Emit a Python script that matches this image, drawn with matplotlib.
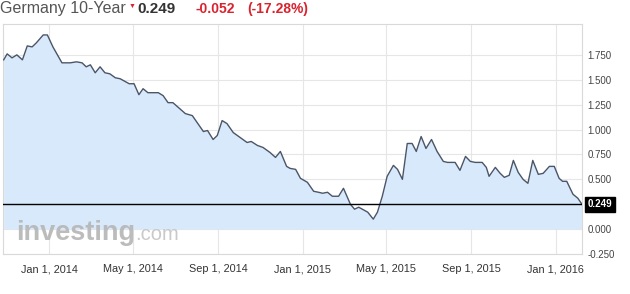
import pandas as pd
import matplotlib
matplotlib.use("Agg")
import matplotlib.pyplot as plt
import matplotlib.dates as mdates

plt.rcParams["font.family"] = ["Liberation Sans", "DejaVu Sans"]

# weekly-ish yield readings (%)
dates = [
    "2013-10-27", "2013-11-01", "2013-11-08", "2013-11-15", "2013-11-23", "2013-11-30",
    "2013-12-07", "2013-12-13", "2013-12-23", "2013-12-29", "2014-01-06", "2014-01-19",
    "2014-01-31", "2014-02-09", "2014-02-17", "2014-02-23", "2014-03-01", "2014-03-08",
    "2014-03-15", "2014-03-22", "2014-03-29", "2014-04-06", "2014-04-13", "2014-04-26",
    "2014-05-03", "2014-05-10", "2014-05-16", "2014-05-23", "2014-06-07", "2014-06-14",
    "2014-06-21", "2014-06-28", "2014-07-16", "2014-07-26", "2014-08-02", "2014-08-11",
    "2014-08-17", "2014-08-25", "2014-08-31", "2014-09-07", "2014-09-14", "2014-09-23",
    "2014-10-03", "2014-10-13", "2014-10-19", "2014-10-28", "2014-11-05", "2014-11-15",
    "2014-11-23", "2014-11-30", "2014-12-09", "2014-12-14", "2014-12-22", "2014-12-29",
    "2015-01-08", "2015-01-17", "2015-01-24", "2015-01-30", "2015-02-06", "2015-02-13",
    "2015-02-22", "2015-03-01", "2015-03-11", "2015-03-17", "2015-03-23", "2015-04-05",
    "2015-04-13", "2015-04-19", "2015-04-26", "2015-05-03", "2015-05-12", "2015-05-18",
    "2015-05-25", "2015-06-01", "2015-06-08", "2015-06-14", "2015-06-21", "2015-06-28",
    "2015-07-06", "2015-07-14", "2015-07-23", "2015-07-29", "2015-08-09", "2015-08-16",
    "2015-08-24", "2015-08-31", "2015-09-07", "2015-09-17", "2015-09-23", "2015-09-27",
    "2015-10-06", "2015-10-13", "2015-10-19", "2015-10-26", "2015-11-01", "2015-11-08",
    "2015-11-15", "2015-11-22", "2015-11-29", "2015-12-07", "2015-12-14", "2015-12-23",
    "2015-12-30", "2016-01-06", "2016-01-11", "2016-01-17", "2016-01-26", "2016-02-02",
    "2016-02-08",
]
yields = [
    1.70, 1.76, 1.72, 1.75, 1.70, 1.84,
    1.83, 1.87, 1.95, 1.95, 1.83, 1.67,
    1.67, 1.68, 1.67, 1.63, 1.65, 1.57,
    1.63, 1.57, 1.56, 1.52, 1.51, 1.46,
    1.46, 1.35, 1.41, 1.37, 1.37, 1.34,
    1.27, 1.27, 1.16, 1.14, 1.07, 0.98,
    0.99, 0.90, 0.94, 1.09, 1.06, 0.97,
    0.92, 0.87, 0.88, 0.84, 0.82, 0.77,
    0.72, 0.78, 0.63, 0.61, 0.60, 0.51,
    0.47, 0.38, 0.37, 0.36, 0.37, 0.33,
    0.33, 0.41, 0.25, 0.20, 0.22, 0.17,
    0.10, 0.17, 0.33, 0.53, 0.64, 0.60,
    0.50, 0.86, 0.86, 0.78, 0.93, 0.81,
    0.90, 0.78, 0.68, 0.67, 0.67, 0.59,
    0.73, 0.68, 0.67, 0.67, 0.62, 0.53,
    0.62, 0.56, 0.52, 0.54, 0.69, 0.57,
    0.50, 0.46, 0.69, 0.55, 0.56, 0.63,
    0.63, 0.51, 0.48, 0.48, 0.35, 0.31,
    0.249,
]
last_value = 0.249
y_ticks = [-0.25, 0.0, 0.25, 0.5, 0.75, 1.0, 1.25, 1.5, 1.75]
x_ticks = ["2014-01-01", "2014-05-01", "2014-09-01", "2015-01-01",
           "2015-05-01", "2015-09-01", "2016-01-01"]

W, H = 630, 294
fig = plt.figure(figsize=(W / 100, H / 100), dpi=100)
ax = fig.add_axes([3 / W, 1 - 254 / H, 579 / W, 230 / H])

x = pd.to_datetime(dates)
ax.fill_between(x, yields, 0, color="#d7e9fb", lw=0, zorder=1)
ax.plot(x, yields, color="#4b5568", lw=1.0, zorder=3)
ax.axhline(last_value, color="black", lw=1.0, zorder=4)

ax.set_xlim(pd.Timestamp("2013-10-26"), pd.Timestamp("2016-02-08"))
ax.set_ylim(-0.25, 2.06)

ax.set_yticks(y_ticks)
ax.yaxis.set_major_formatter(matplotlib.ticker.FormatStrFormatter("%.3f"))
ax.yaxis.tick_right()
ax.set_xticks(pd.to_datetime(x_ticks))
ax.xaxis.set_major_formatter(mdates.DateFormatter("%b %-d, %Y"))
ax.tick_params(axis="y", length=0, pad=4, labelsize=7, labelcolor="#444444")
ax.tick_params(axis="x", length=0, pad=7.5, labelsize=7.8, labelcolor="#333333")
ax.grid(True, color="#e6e6e6", lw=0.8, zorder=0)
ax.set_axisbelow(True)
for s in ax.spines.values():
    s.set_color("#d9d9d9")
    s.set_linewidth(0.8)

# current value tag
ax.annotate(f"{last_value:.3f}", xy=(1.0, last_value), xycoords=("axes fraction", "data"),
            xytext=(4, 0), textcoords="offset points", va="center", ha="left",
            fontsize=7, color="white", fontweight="bold",
            bbox=dict(boxstyle="square,pad=0.25", fc="black", ec="black"))

# watermark
wm = fig.text(16 / W, 1 - 233 / H, "investing", fontsize=19.5, fontweight="bold",
              color="#b5b5b5", va="center", ha="left", alpha=0.9)
fig.canvas.draw()
bb = wm.get_window_extent()
fig.text(bb.x1 / W, 1 - 235 / H, ".com", fontsize=14.5, color="#c4c4c4",
         va="center", ha="left", alpha=0.9)

# header
ty = 1 - 9 / H
fig.text(0 / W, ty, "Germany 10-Year", fontsize=11.5, color="#555555", va="center")
fig.text(129 / W, 1 - 6 / H, "\u25bc", fontsize=5, color="#d9232e", va="center")
fig.text(137 / W, ty, f"{last_value:.3f}", fontsize=11, fontweight="bold",
         color="#333333", va="center")
fig.text(196 / W, ty, "-0.052", fontsize=10, fontweight="bold", color="#d9232e", va="center")
fig.text(247 / W, ty, "(-17.28%)", fontsize=10, fontweight="bold", color="#d9232e", va="center")

fig.savefig("out.png", dpi=100)
